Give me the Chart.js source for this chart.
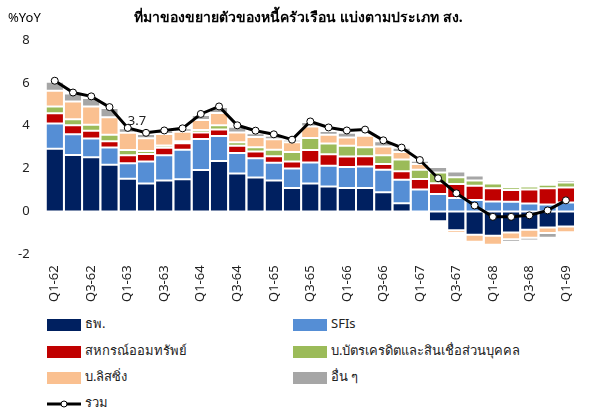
<!DOCTYPE html>
<html><head><meta charset="utf-8">
<script src="https://cdn.jsdelivr.net/npm/chart.js@4"></script>
<style>
body{margin:0;background:#fff;font-family:"Noto Sans",sans-serif;}
#wrap{position:relative;width:597px;height:415px;}
#c{position:absolute;left:0;top:0;}
.lg{position:absolute;font-size:13px;color:#222;line-height:14px;}
.bx{display:inline-block;width:34px;height:12px;vertical-align:middle;margin-right:4px;}
#title{position:absolute;top:6px;left:0;width:597px;text-align:center;font-weight:bold;font-size:14px;}
#yu{position:absolute;left:8px;top:8px;font-size:13px;}
</style></head><body>
<div id="wrap">
<canvas id="c" width="597" height="305"></canvas>
<div id="title">ที่มาของขยายตัวของหนี้ครัวเรือน แบ่งตามประเภท สง.</div>
<div id="yu">%YoY</div>
<div class="lg" style="left:47px;top:316px"><span class="bx" style="background:#002060"></span>ธพ.</div>
<div class="lg" style="left:293px;top:316px"><span class="bx" style="background:#558ED5"></span>SFIs</div>
<div class="lg" style="left:47px;top:343px"><span class="bx" style="background:#C00000"></span>สหกรณ์ออมทรัพย์</div>
<div class="lg" style="left:293px;top:343px"><span class="bx" style="background:#9BBB59"></span>บ.บัตรเครดิตและสินเชื่อส่วนบุคคล</div>
<div class="lg" style="left:47px;top:369px"><span class="bx" style="background:#FAC090"></span>บ.ลิสซิ่ง</div>
<div class="lg" style="left:293px;top:369px"><span class="bx" style="background:#A6A6A6"></span>อื่น ๆ</div>
<div class="lg" style="left:47px;top:395px"><svg width="34" height="12" style="vertical-align:middle;margin-right:4px"><line x1="0" y1="6" x2="34" y2="6" stroke="#000" stroke-width="3"/><circle cx="17" cy="6" r="3" fill="#fff" stroke="#000" stroke-width="1"/></svg>รวม</div>
</div>
<script>
const quarters=["Q1-62","Q2-62","Q3-62","Q4-62","Q1-63","Q2-63","Q3-63","Q4-63","Q1-64","Q2-64","Q3-64","Q4-64","Q1-65","Q2-65","Q3-65","Q4-65","Q1-66","Q2-66","Q3-66","Q4-66","Q1-67","Q2-67","Q3-67","Q4-67","Q1-68","Q2-68","Q3-68","Q4-68","Q1-69"];
const banks=[2.93,2.64,2.53,2.18,1.53,1.3,1.45,1.5,1.93,2.35,1.77,1.58,1.45,1.1,1.3,1.17,1.1,1.1,0.9,0.38,0,-0.45,-0.88,-1.08,-1.13,-0.98,-0.85,-0.75,-0.7];
const sfis=[1.17,0.96,0.87,0.8,0.72,1.03,1.17,1.38,1.45,1.17,0.96,0.9,0.82,0.9,0.98,0.96,0.97,1.0,1.05,1.1,1.02,0.82,0.63,0.53,0.47,0.45,0.37,0.33,0.42];
const coops=[0.48,0.42,0.37,0.3,0.37,0.35,0.35,0.3,0.3,0.31,0.34,0.32,0.31,0.33,0.59,0.54,0.5,0.48,0.27,0.4,0.5,0.5,0.65,0.67,0.61,0.55,0.66,0.75,0.7];
const cards=[0.32,0.28,0.28,0.3,0.25,0.14,0.11,0.1,0.12,0.19,0.16,0.2,0.3,0.45,0.56,0.5,0.5,0.42,0.4,0.54,0.43,0.5,0.32,0.25,0.22,0.13,0.14,0.17,0.23];
const leasing=[0.73,0.83,0.85,0.82,0.8,0.6,0.54,0.44,0.47,0.58,0.45,0.48,0.49,0.45,0.54,0.41,0.38,0.53,0.41,0.36,0.27,-0.05,-0.12,-0.33,-0.42,-0.32,-0.37,-0.25,-0.27];
const others=[0.42,0.37,0.4,0.43,0.21,0.2,0.16,0.16,0.23,0.28,0.27,0.17,0.16,0.12,0.21,0.17,0.22,0.07,0.25,0.19,0.15,0.26,0.27,0.23,-0.07,-0.12,-0.13,-0.22,0.12];
const total=[6.1,5.55,5.37,4.87,3.9,3.67,3.78,3.88,4.55,4.9,4.02,3.77,3.6,3.35,4.2,3.92,3.78,3.82,3.32,2.98,2.4,1.55,0.85,0.28,-0.25,-0.25,-0.18,0.05,0.52];
const yTicks=[8,6,4,2,0,-2];
const labelIdx=5;
const bar=(label,data,color)=>({type:'bar',label,data,backgroundColor:color,borderColor:'#fff',borderWidth:{left:0,right:0,top:1,bottom:1},borderSkipped:false,stack:'s',barPercentage:0.9,categoryPercentage:1,order:2});
const lblPlugin={id:'lbl',afterDatasetsDraw(ch){const m=ch.getDatasetMeta(6).data[labelIdx];const c=ch.ctx;c.save();c.font='13px "Noto Sans"';c.fillStyle='#222';c.textAlign='center';c.fillText(total[labelIdx].toFixed(1),m.x-9,m.y-8);c.restore();}};
new Chart(document.getElementById('c'),{
data:{labels:quarters,datasets:[
bar('ธพ.',banks,'#002060'),bar('SFIs',sfis,'#558ED5'),bar('สหกรณ์ออมทรัพย์',coops,'#C00000'),
bar('บ.บัตรเครดิตและสินเชื่อส่วนบุคคล',cards,'#9BBB59'),bar('บ.ลิสซิ่ง',leasing,'#FAC090'),bar('อื่น ๆ',others,'#A6A6A6'),
{type:'line',label:'รวม',data:total,borderColor:'#000',borderWidth:3,pointRadius:3.5,pointBackgroundColor:'#fff',pointBorderColor:'#000',pointBorderWidth:1,tension:0,order:1}
]},
options:{responsive:false,animation:false,
layout:{padding:{left:10,right:22,top:40,bottom:0}},
plugins:{legend:{display:false},tooltip:{enabled:false}},
scales:{
x:{stacked:true,grid:{display:false},border:{display:false},
ticks:{autoSkip:false,maxRotation:90,minRotation:90,font:{size:13,family:'Noto Sans'},color:'#222',callback:(v,i)=>i%2===0?quarters[i]:''}},
y:{stacked:true,min:-2,max:8,grid:{display:false},border:{display:false},afterBuildTicks:a=>{a.ticks=yTicks.map(v=>({value:v}));},
ticks:{font:{size:13,family:'Noto Sans'},color:'#222',padding:8}}
}},
plugins:[lblPlugin]
});
</script>
</body></html>
